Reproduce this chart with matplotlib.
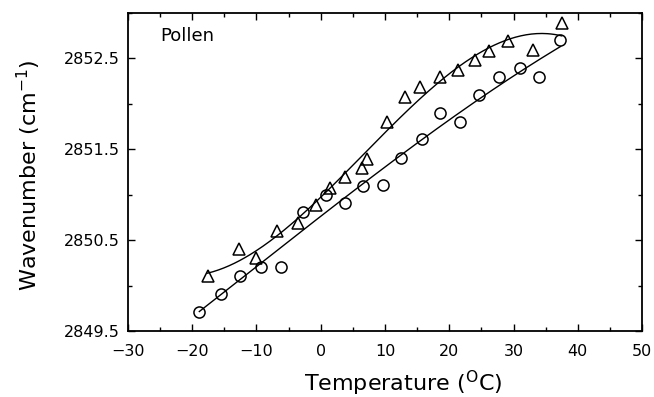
import numpy as np
import matplotlib
import matplotlib.pyplot as plt
from matplotlib.ticker import MultipleLocator, FormatStrFormatter

matplotlib.use('Agg')
plt.rcParams['font.family'] = ['DejaVu Sans']
plt.rcParams['mathtext.fontset'] = 'dejavusans'

# circles
circle_temp = [-18.9, -15.6, -12.5, -9.3, -6.2, -2.8, 0.8, 3.7, 6.6, 9.7,
               12.5, 15.8, 18.6, 21.7, 24.7, 27.7, 31.0, 33.9, 37.3]
circle_wn = [2849.71, 2849.91, 2850.11, 2850.20, 2850.21, 2850.81, 2851.00, 2850.91,
             2851.10, 2851.11, 2851.40, 2851.61, 2851.90, 2851.80, 2852.10, 2852.30,
             2852.39, 2852.30, 2852.70]

# triangles
tri_temp = [-17.6, -12.7, -10.1, -6.8, -3.5, -0.8, 1.4, 3.8, 6.4, 7.2, 10.3,
            13.1, 15.4, 18.5, 21.4, 24.0, 26.2, 29.2, 33.0, 37.5]
tri_wn = [2850.11, 2850.40, 2850.30, 2850.60, 2850.69, 2850.89, 2851.07, 2851.20,
          2851.29, 2851.39, 2851.80, 2852.08, 2852.19, 2852.29, 2852.37, 2852.48,
          2852.58, 2852.69, 2852.59, 2852.89]


def fit_curve(x, y, deg=3):
    p = np.polyfit(x, y, deg)
    xs = np.linspace(min(x), max(x), 200)
    return xs, np.polyval(p, xs)


fig = plt.figure(figsize=(6.54, 3.97), dpi=100)
ax = fig.add_axes([0.1957, 0.1662, 0.7860, 0.8011])

xs, ys = fit_curve(circle_temp, circle_wn)
ax.plot(xs, ys, color='black', lw=1.0)
xs, ys = fit_curve(tri_temp, tri_wn)
ax.plot(xs, ys, color='black', lw=1.0)

ax.plot(circle_temp, circle_wn, 'o', ms=8, mfc='none', mec='black', mew=1.1)
ax.plot(tri_temp, tri_wn, '^', ms=8, mfc='none', mec='black', mew=1.1)

ax.set_xlim(-30, 50)
ax.set_ylim(2849.5, 2853.0)
ax.xaxis.set_major_locator(MultipleLocator(10))
ax.xaxis.set_minor_locator(MultipleLocator(5))
ax.set_yticks([2849.5, 2850.5, 2851.5, 2852.5])
ax.yaxis.set_minor_locator(MultipleLocator(0.5))
ax.yaxis.set_major_formatter(FormatStrFormatter('%.1f'))
ax.tick_params(which='both', direction='in', top=True, right=True, labelsize=11.5, width=1)
ax.tick_params(which='major', length=5)
ax.tick_params(which='minor', length=3)
ax.tick_params(axis='x', pad=9)
ax.tick_params(axis='y', pad=6)
for s in ax.spines.values():
    s.set_linewidth(1.3)

ax.set_xlabel(r'Temperature ($^{\mathrm{O}}$C)', fontsize=16)
ax.set_ylabel(r'Wavenumber (cm$^{-1}$)', fontsize=16)
ax.xaxis.set_label_coords(0.535, -0.12)
ax.yaxis.set_label_coords(-0.165, 0.49)
ax.text(0.062, 0.928, 'Pollen', transform=ax.transAxes, fontsize=13, va='center')

fig.savefig('out.png', dpi=100)
